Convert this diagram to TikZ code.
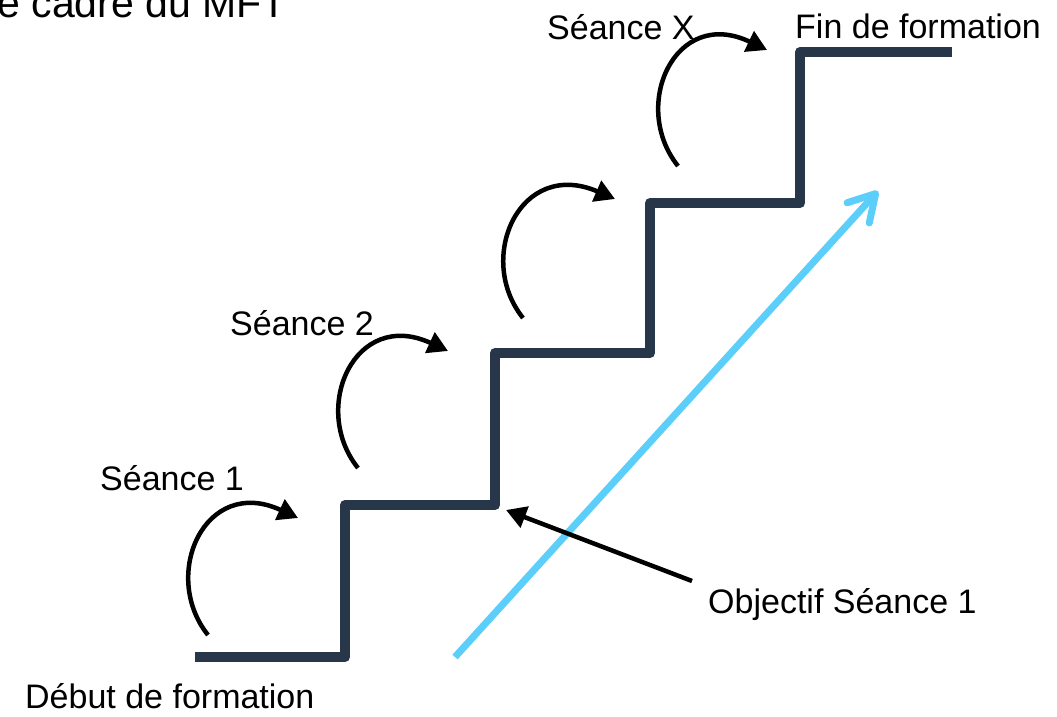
\documentclass[tikz,border=0pt]{standalone}
\usepackage{fontspec}
\setmainfont{Liberation Sans}
\newfontfamily\arialfont{Liberation Sans}
\usetikzlibrary{arrows.meta}
\definecolor{stairc}{HTML}{283649}
\definecolor{bluec}{HTML}{5BCEFA}
\tikzset{
  stairline/.style={draw=stairc, line width=10pt, line join=round, line cap=butt},
  sarrow/.style={draw=black, line width=4.5pt, -{Triangle[length=20pt,width=22pt]}},
  ptarrow/.style={draw=black, line width=4.5pt, -{Triangle[length=20pt,width=22pt]}},
  bluearrow/.style={draw=bluec, line width=7pt, -{Straight Barb[length=26pt,width=30pt,round]}},
  lbl/.style={anchor=base west, inner sep=0pt, font=\fontsize{34}{38}\selectfont},
}
\begin{document}
\begin{tikzpicture}[x=1pt, y=-1pt]
\useasboundingbox (0,0) rectangle (1057,717);
\clip (0,0) rectangle (1057,717);
\fill[white] (0,0) rectangle (1057,717);
% top-left cut title
\node[anchor=base east, inner sep=0pt, font=\arialfont\fontsize{41}{45}\selectfont] (title) at (287,18) {e cadre du MFT};
% staircase corners
\coordinate (s0) at (195,657);
\coordinate (s1) at (345,657);
\coordinate (s2) at (345,505);
\coordinate (s3) at (495,505);
\coordinate (s4) at (495,353);
\coordinate (s5) at (650,353);
\coordinate (s6) at (650,203);
\coordinate (s7) at (800,203);
\coordinate (s8) at (800,52);
\coordinate (s9) at (952,52);
\draw[stairline] (s0) -- (s1) -- (s2) -- (s3) -- (s4) -- (s5) -- (s6) -- (s7) -- (s8) -- (s9);
% blue progress arrow
\coordinate (b0) at (455,657);
\coordinate (b1) at (878,191);
\draw[bluearrow] (b0) -- (b1);
% curved session arrows
\draw[sarrow] (208,635) .. controls (160,575) and (205,475) .. (298,518);
\draw[sarrow] (358,468) .. controls (310,408) and (355,308) .. (448,351);
\draw[sarrow] (523,318) .. controls (475,258) and (520,158) .. (615,199);
\draw[sarrow] (678,166) .. controls (630,106) and (675,6) .. (767,50);
% labels
\node[lbl] (se1) at (100,490) {Séance 1};
\node[lbl] (se2) at (230,335) {Séance 2};
\node[lbl] (sex) at (547,40) {Séance X};
\node[lbl] (fin) at (795,39) {Fin de formation};
\node[lbl] (deb) at (25,708) {Début de formation};
\node[lbl] (obj) at (708,613) {Objectif Séance 1};
% pointer arrow
\coordinate (p0) at (692,581);
\coordinate (p1) at (506,510);
\draw[ptarrow] (p0) -- (p1);
\end{tikzpicture}
\end{document}
